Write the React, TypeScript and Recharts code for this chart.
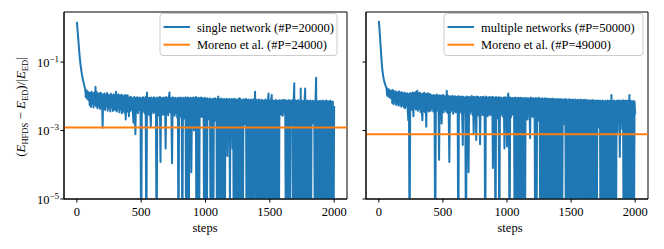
import { LineChart, Line, XAxis, YAxis, ReferenceLine, ReferenceArea } from "recharts"

const FONT = "Liberation Serif"
const BLUE = "#1f77b4"
const ORANGE = "#ff7f0e"
const Z = 1e-7 // below the axis floor (error drops to ~0)

const steps = [
  0, 5, 10, 15, 20, 25, 30, 35, 40, 45, 50, 55, 60, 65, 70, 75, 80, 85, 90, 95,
  100, 105, 110, 115, 120, 125, 130, 135, 140, 145, 150, 155, 160, 165, 170, 175, 180, 185, 190, 195,
  200, 205, 210, 215, 220, 225, 230, 235, 240, 245, 250, 255, 260, 265, 270, 275, 280, 285, 290, 295,
  300, 305, 310, 315, 320, 325, 330, 335, 340, 345, 350, 355, 360, 365, 370, 375, 380, 385, 390, 395,
  400, 405, 410, 415, 420, 425, 430, 435, 440, 445, 450, 455, 460, 465, 470, 475, 480, 485, 490, 495,
  500, 505, 510, 515, 520, 525, 530, 535, 540, 545, 550, 555, 560, 565, 570, 575, 580, 585, 590, 595,
  600, 605, 610, 615, 620, 625, 630, 635, 640, 645, 650, 655, 660, 665, 670, 675, 680, 685, 690, 695,
  700, 705, 710, 715, 720, 725, 730, 735, 740, 745, 750, 755, 760, 765, 770, 775, 780, 785, 790, 795,
  800, 805, 810, 815, 820, 825, 830, 835, 840, 845, 850, 855, 860, 865, 870, 875, 880, 885, 890, 895,
  900, 905, 910, 915, 920, 925, 930, 935, 940, 945, 950, 955, 960, 965, 970, 975, 980, 985, 990, 995,
  1000, 1005, 1010, 1015, 1020, 1025, 1030, 1035, 1040, 1045, 1050, 1055, 1060, 1065, 1070, 1075, 1080, 1085, 1090, 1095,
  1100, 1105, 1110, 1115, 1120, 1125, 1130, 1135, 1140, 1145, 1150, 1155, 1160, 1165, 1170, 1175, 1180, 1185, 1190, 1195,
  1200, 1205, 1210, 1215, 1220, 1225, 1230, 1235, 1240, 1245, 1250, 1255, 1260, 1265, 1270, 1275, 1280, 1285, 1290, 1295,
  1300, 1305, 1310, 1315, 1320, 1325, 1330, 1335, 1340, 1345, 1350, 1355, 1360, 1365, 1370, 1375, 1380, 1385, 1390, 1395,
  1400, 1405, 1410, 1415, 1420, 1425, 1430, 1435, 1440, 1445, 1450, 1455, 1460, 1465, 1470, 1475, 1480, 1485, 1490, 1495,
  1500, 1505, 1510, 1515, 1520, 1525, 1530, 1535, 1540, 1545, 1550, 1555, 1560, 1565, 1570, 1575, 1580, 1585, 1590, 1595,
  1600, 1605, 1610, 1615, 1620, 1625, 1630, 1635, 1640, 1645, 1650, 1655, 1660, 1665, 1670, 1675, 1680, 1685, 1690, 1695,
  1700, 1705, 1710, 1715, 1720, 1725, 1730, 1735, 1740, 1745, 1750, 1755, 1760, 1765, 1770, 1775, 1780, 1785, 1790, 1795,
  1800, 1805, 1810, 1815, 1820, 1825, 1830, 1835, 1840, 1845, 1850, 1855, 1860, 1865, 1870, 1875, 1880, 1885, 1890, 1895,
  1900, 1905, 1910, 1915, 1920, 1925, 1930, 1935, 1940, 1945, 1950, 1955, 1960, 1965, 1970, 1975, 1980, 1985, 1990, 1995,
  2000,
]

// relative error, single network (#P=20000)
const singleNet = [
  1.5, 0.9, 0.52, 0.3, 0.17, 0.11, 0.075, 0.055, 0.042, 0.034, 0.027, 0.023, 0.019, 0.016, 0.0095, 0.015, 0.0085, 0.0135, 0.0078, 0.0128,
  0.0055, 0.0128, 0.0049, 0.0135, 0.0062, 0.0119, 0.0047, 0.0126, 0.0058, 0.019, 0.0051, 0.0131, 0.0045, 0.0117, 0.0053, 0.0123, 0.0043, 0.0127, 0.005, 0.0114,
  0.0012, 0.0112, 0.0045, 0.0121, 0.004, 0.0108, 0.0051, 0.0124, 0.0038, 0.0111, 0.0046, 0.0106, 0.0036, 0.0119, 0.0048, 0.0103, 0.0037, 0.0115, 0.0042, 0.0109,
  0.0039, 0.0135, 0.0036, 0.0107, 0.0044, 0.0113, 0.0034, 0.0104, 0.0041, 0.0111, 0.0032, 0.0106, 0.0038, 0.0101, 0.0033, 0.0109, 0.0021, 0.0103, 0.0036, 0.0108,
  0.0045, 0.0026, 0.0092, 0.0037, 0.0097, 0.0041, 0.0088, 0.0034, 0.0017, 0.0095, 0.0039, 0.00078, 0.0091, 0.0036, 0.0094, 0.0032, 0.0087, 0.004, 0.0092, 0.0035,
  Z, 0.0089, 0.0033, 0.0094, 0.0038, 0.0086, 0.0031, 0.0097, Z, 0.013, 0.0036, 0.0088, 0.0029, 0.0091, 0.0034, 0.0013, 0.0093, 0.0037, 0.0085, 0.0032,
  0.0094, 0.0035, 0.0087, 0.003, Z, 0.0092, 0.0033, 0.0089, 0.0027, 0.0096, 0.00012, 0.0091, 0.0034, 0.0086, 0.0029, 0.0093, 0.0031, 0.0088, 0.0003, 0.0095,
  0.0032, 0.0087, 0.0028, 0.0092, 0.013, 0.0034, 0.0089, 0.0026, 0.00011, 0.0094, 0.003, 0.0086, 0.0027, 0.0091, 0.0033, 0.0085, 0.0024, 0.009, Z, 0.0088,
  0.0029, 0.0093, 0.0025, 0.0087, Z, 0.0091, 0.0031, 0.0086, 0.0022, 0.0094, Z, 0.0089, 0.0027, 0.0092, Z, 0.0085, 0.003, 0.009, 0.00006, 0.0087,
  0.0026, 0.0093, 0.001, 0.0088, 0.0031, 0.0095, Z, 0.0087, 0.0028, 0.0091, Z, 0.0086, 0.0033, 0.0092, 0.0025, 0.0089, 0.0029, 0.0084, Z, 0.009,
  0.0027, 0.0084, Z, 0.0088, 0.003, 0.0081, 0.0021, 0.0086, Z, 0.0079, 0.0032, 0.0085, Z, 0.0083, 0.0019, 0.0087, 0.0026, 0.008, Z, 0.0084,
  0.0098, 0.0029, Z, 0.0082, 0.0025, 0.0086, Z, 0.0079, 0.0031, 0.0083, Z, 0.0081, 0.0027, 0.0085, 0.00018, 0.0078, 0.003, 0.0084, 0.000008, 0.008,
  0.0028, 0.0083, 0.0003, 0.0079, Z, 0.0085, Z, 0.0081, Z, 0.0077, Z, 0.0084, Z, 0.0088, Z, 0.008, Z, 0.0076, Z, 0.0082,
  0.0015, 0.0079, 0.0024, 0.0083, Z, 0.0078, Z, 0.0081, Z, 0.0075, Z, 0.008, Z, 0.0077, Z, 0.0082, Z, 0.0135, 0.002, 0.0079,
  Z, 0.0076, Z, 0.0081, Z, 0.0074, Z, 0.0079, Z, 0.0077, Z, 0.0073, Z, 0.008, Z, 0.0075, Z, 0.0078, 0.012, Z,
  0.0074, Z, 0.0079, 0.011, Z, 0.0076, Z, 0.0072, Z, 0.0078, Z, 0.0075, Z, 0.0073, Z, 0.0077, 0.0031, 0.0074, 0.0029, 0.0078,
  0.0027, 0.0075, 0.0033, 0.0079, 0.0026, Z, 0.0076, Z, 0.0073, Z, 0.0078, Z, 0.0022, 0.0074, 0.0035, 0.0077, Z, 0.0072, 0.024, Z,
  0.0076, Z, 0.0073, Z, 0.0078, Z, 0.0071, Z, 0.017, Z, 0.0074, Z, 0.0072, Z, 0.0076, 0.017, Z, 0.0073, Z, 0.0075,
  Z, 0.0072, Z, 0.0076, Z, 0.007, 0.0016, 0.0074, 0.0028, 0.0071, Z, 0.0075, 0.035, Z, 0.0073, Z, 0.0069, Z, 0.0074, Z,
  0.0071, Z, 0.0075, Z, 0.007, Z, 0.0073, Z, 0.0076, Z, 0.0069, Z, 0.0072, Z, 0.0074, Z, 0.0068, Z, 0.0071, Z,
  0.0052,
]

// relative error, multiple networks (#P=50000)
const multiNet = [
  1.6, 0.95, 0.5, 0.26, 0.13, 0.075, 0.05, 0.037, 0.03, 0.025, 0.022, 0.019, 0.0175, 0.0105, 0.0165, 0.0098, 0.0155, 0.0092, 0.0148, 0.0088,
  0.0145, 0.0064, 0.0152, 0.0059, 0.0136, 0.0067, 0.0141, 0.0056, 0.0129, 0.0061, 0.0134, 0.0053, 0.0138, 0.0058, 0.0125, 0.005, 0.0131, 0.0055, 0.012, 0.0048,
  0.0127, 0.0045, 0.0119, 0.0052, 0.0123, 0.0042, 0.002, 0.0116, Z, 0.0125, 0.0044, 0.0118, 0.004, 0.0129, 0.0026, 0.0122, 0.0046, 0.0131, 0.0041, 0.012,
  0.0145, 0.0038, 0.0123, 0.0044, 0.0128, 0.0035, 0.0117, 0.0042, 0.002, 0.0121, 0.0037, 0.0126, 0.0034, 0.0115, 0.0013, 0.0119, 0.004, 0.0122, 0.0036, 0.0114,
  0.0115, 0.0038, 0.0108, 0.0045, 0.0103, 0.0036, 0.011, 0.0042, Z, 0.0106, 0.0037, 0.0112, 0.004, 0.0101, 0.00014, 0.0107, 0.0035, 0.0104, 0.0016, 0.0099,
  0.0109, 0.0034, 0.0102, 0.0041, 0.0098, 0.0036, 0.0145, 0.0033, 0.0104, 0.0039, 0.00012, 0.01, 0.0035, 0.0097, 0.004, 0.0103, 0.0031, 0.0096, 0.0037, 0.0101,
  0.0034, 0.0095, 0.0038, 0.0099, Z, 0.0101, 0.0032, 0.0094, 0.0036, 0.0098, 0.0029, 0.00038, 0.0097, 0.0035, 0.0093, 0.003, Z, 0.0099, 0.0033, 0.0095,
  0.00006, 0.0096, 0.0031, 0.0093, 0.0036, 0.0102, 0.0029, 0.0094, 0.0008, 0.0097, 0.0034, 0.0092, 0.00053, 0.0098, 0.003, 0.0095, 0.0027, 0.0091, 0.0004, 0.0096,
  0.0033, 0.0094, 0.0028, 0.0097, 0.0032, 0.009, Z, 0.0099, 0.003, 0.0093, 0.0026, 0.0092, 0.0031, 0.0096, 0.0028, 0.0091, 0.0034, 0.0097, 0.00008, 0.0093,
  0.0029, 0.0091, Z, 0.0095, 0.0032, 0.0089, 0.0022, 0.0094, Z, 0.0093, 0.0027, 0.009, 0.0031, 0.0088, 0.0025, 0.0092, 0.0003, 0.0094, 0.0028, 0.0089,
  0.00034, 0.0093, 0.012, 0.003, Z, 0.0092, 0.0024, 0.0088, 0.0029, 0.0089, 0.0033, 0.0087, Z, 0.0093, 0.0027, 0.0086, Z, 0.009, 0.0025, 0.0088,
  Z, 0.0091, 0.0031, 0.0087, Z, 0.0089, 0.0028, 0.0085, Z, 0.009, 0.0026, 0.0086, 0.0021, 0.0088, 0.003, 0.0084, 0.0006, 0.0092, 0.0027, 0.0087,
  0.0025, 0.0088, 0.0029, 0.0085, Z, 0.0089, Z, 0.0083, 0.0019, 0.009, 0.0024, 0.0086, Z, 0.0084, Z, 0.0088, Z, 0.0082, Z, 0.0087,
  Z, 0.0083, Z, 0.0086, Z, 0.0081, Z, 0.0085, Z, 0.0082, Z, 0.0086, Z, 0.008, Z, 0.0084, Z, 0.0081, Z, 0.0083,
  Z, 0.008, Z, 0.0084, Z, 0.0079, Z, 0.0082, 0.0015, 0.0078, 0.0023, 0.0083, Z, 0.008, Z, 0.0077, Z, 0.0082, Z, 0.0079,
  Z, 0.0078, Z, 0.0081, Z, 0.0076, Z, 0.008, Z, 0.0077, Z, 0.0079, 0.00002, 0.0076, Z, 0.008, Z, 0.0075, Z, 0.0078,
  Z, 0.0079, Z, 0.0075, Z, 0.0078, Z, 0.0074, Z, 0.0077, Z, 0.0073, Z, 0.0078, Z, 0.0074, Z, 0.0076, Z, 0.0073,
  Z, 0.0075, 0.0012, 0.0073, 0.0018, 0.0076, Z, 0.0072, Z, 0.0075, Z, 0.0071, Z, 0.0074, Z, 0.0072, Z, 0.0075, Z, 0.0073,
  Z, 0.0074, Z, 0.011, Z, 0.0072, Z, 0.0075, Z, 0.0071, Z, 0.0074, 0.0009, 0.0076, 0.0021, 0.0073, 0.00017, 0.0075, 0.0026, 0.0072,
  0.0011, 0.0077, Z, 0.0073, Z, 0.0076, Z, 0.0072, Z, 0.0075, Z, 0.011, Z, 0.0074, Z, 0.0071, Z, 0.0073, Z, 0.007,
  0.003,
]

const morenoSingle = 0.00123
const morenoMulti = 0.00078

const xTicks = [0, 500, 1000, 1500, 2000]
const yTicks = [1e-5, 1e-3, 1e-1]
const yExp: Record<string, string> = { "0.00001": "−5", "0.001": "−3", "0.1": "−1" }

const X_DOMAIN = [-100, 2100]
const Y_DOMAIN = [1e-5, 2.9]

const XTick = ({ x, y, payload }: any) => (
  <text x={x} y={y + 11} textAnchor="middle" style={{ fontFamily: FONT }} fontSize={12.5} fill="#000">
    {payload.value}
  </text>
)

const YTick = ({ x, y, payload }: any) => (
  <text x={x} y={y + 4.5} textAnchor="end" style={{ fontFamily: FONT }} fontSize={12.5} fill="#000">
    10<tspan dy={-5} fontSize={9}>{yExp[String(payload.value)]}</tspan>
  </text>
)

const NoTick = () => <g />

function Panel({ values, moreno, width, yWidth, right, showLabels }: any) {
  const data = steps.map((s, i) => ({ step: s, err: values[i] }))
  return (
    <LineChart width={width} height={249} data={data} margin={{ top: 12, right, bottom: 0, left: 0 }}>
      <XAxis
        dataKey="step"
        type="number"
        domain={X_DOMAIN}
        ticks={xTicks}
        allowDataOverflow
        height={50}
        tickSize={3.5}
        tickMargin={2}
        stroke="#000"
        tick={<XTick />}
      />
      <YAxis
        type="number"
        scale="log"
        domain={Y_DOMAIN}
        ticks={yTicks}
        allowDataOverflow
        width={yWidth}
        tickSize={3.5}
        tickMargin={1.5}
        stroke="#000"
        tick={showLabels ? <YTick /> : <NoTick />}
      />
      <Line
        type="linear"
        dataKey="err"
        stroke={BLUE}
        strokeWidth={2}
        strokeLinejoin="round"
        dot={false}
        isAnimationActive={false}
      />
      <ReferenceLine y={moreno} stroke={ORANGE} strokeWidth={2} />
      <ReferenceArea x1={X_DOMAIN[0]} x2={X_DOMAIN[1]} y1={Y_DOMAIN[0]} y2={Y_DOMAIN[1]} fill="none" stroke="#000" strokeWidth={1} />
    </LineChart>
  )
}

function LegendBox({ x, w, first, second }: any) {
  return (
    <g style={{ fontFamily: FONT }} fontSize={12.5}>
      <rect x={x} y={13.5} width={w} height={42} rx={3} fill="#fff" fillOpacity={0.8} stroke="#ccc" />
      <line x1={x + 3.5} x2={x + 30} y1={27} y2={27} stroke={BLUE} strokeWidth={2} />
      <text x={x + 37} y={31.5}>{first}</text>
      <line x1={x + 3.5} x2={x + 30} y1={44.7} y2={44.7} stroke={ORANGE} strokeWidth={2} />
      <text x={x + 37} y={49}>{second}</text>
    </g>
  )
}

export default function App() {
  return (
    <div style={{ position: "absolute", left: 0, top: 0, width: 664, height: 249, background: "#fff" }}>
      <div style={{ position: "absolute", left: 0, top: 0 }}>
        <Panel values={singleNet} moreno={morenoSingle} width={355} yWidth={64} right={8} showLabels />
      </div>
      <div style={{ position: "absolute", left: 330, top: 0 }}>
        <Panel values={multiNet} moreno={morenoMulti} width={334} yWidth={36} right={16} showLabels={false} />
      </div>
      <svg width={664} height={249} style={{ position: "absolute", left: 0, top: 0, pointerEvents: "none" }}>
        <LegendBox x={160} w={177} first="single network (#P=20000)" second="Moreno et al. (#P=24000)" />
        <LegendBox x={444} w={199} first="multiple networks (#P=50000)" second="Moreno et al. (#P=49000)" />
        <g style={{ fontFamily: FONT }} fontSize={12.5} textAnchor="middle">
          <text x={205} y={232}>steps</text>
          <text x={510} y={232}>steps</text>
        </g>
        <text transform="rotate(-90)" x={-107} y={25} textAnchor="middle" style={{ fontFamily: FONT }} fontSize={13}>
          (<tspan fontStyle="italic">E</tspan>
          <tspan fontSize={8.5} dy={3}>HFDS</tspan>
          <tspan dy={-3}> − </tspan>
          <tspan fontStyle="italic">E</tspan>
          <tspan fontSize={8.5} dy={3}>ED</tspan>
          <tspan dy={-3}>)/|</tspan>
          <tspan fontStyle="italic">E</tspan>
          <tspan fontSize={8.5} dy={3}>ED</tspan>
          <tspan dy={-3}>|</tspan>
        </text>
      </svg>
    </div>
  )
}
